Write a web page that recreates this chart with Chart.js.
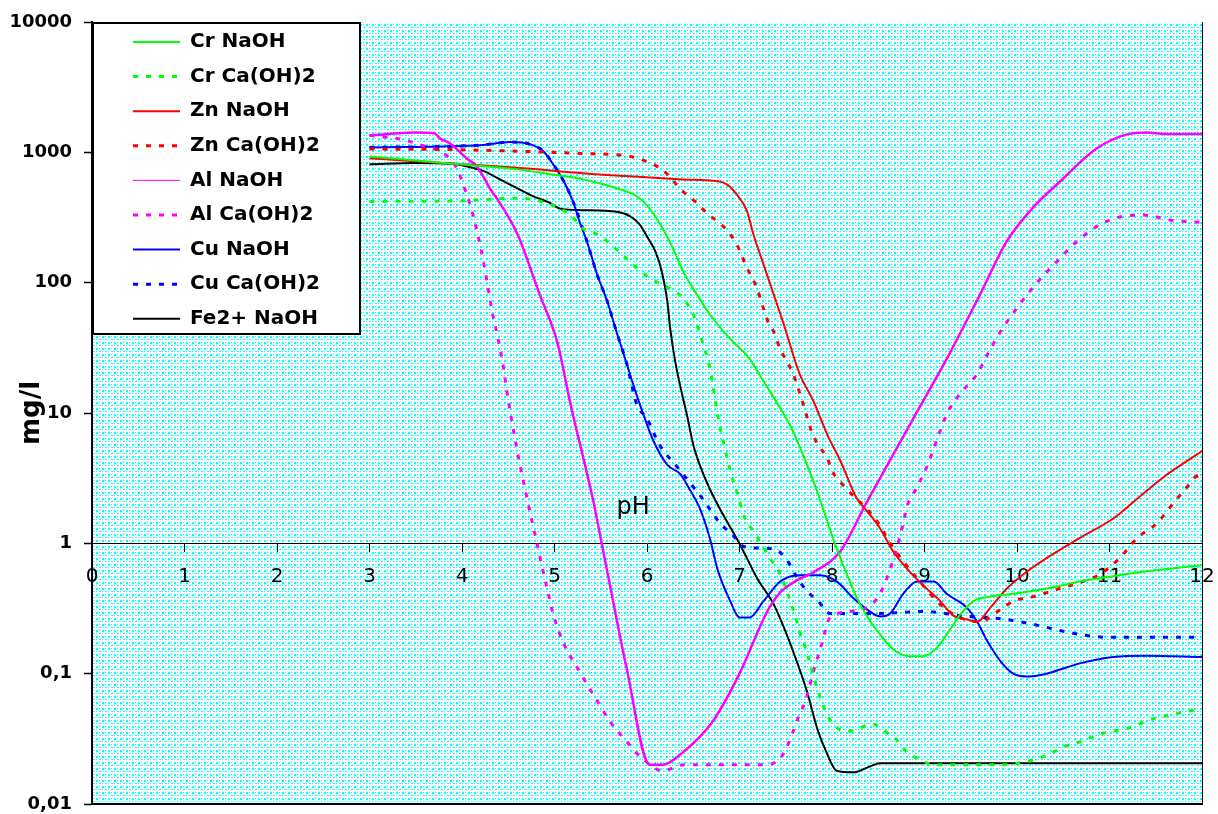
<!DOCTYPE html>
<html><head><meta charset="utf-8">
<script src="https://cdn.jsdelivr.net/npm/chart.js@4.4.1/dist/chart.umd.min.js"></script>
<style>html,body{margin:0;padding:0;background:#fff;}canvas{display:block;}</style>
</head><body>
<canvas id="c" width="1218" height="814"></canvas>
<script>
// ---- axis ticks / labels ----
const xTickValues = [0,1,2,3,4,5,6,7,8,9,10,11,12];
const xTickLabels = ['0','1','2','3','4','5','6','7','8','9','10','11','12'];
const yTickValues = [0.01,0.1,1,10,100,1000,10000];
const yTickLabels = ['0,01','0,1','1','10','100','1000','10000'];
const xTitle = 'pH';
const xTitleAt = [5.85, 1.67];
const yTitle = 'mg/l';

// ---- series ----
const phCrNaOH = [3,3.87,4.6,4.95,5.31,5.67,5.89,6.03,6.17,6.28,6.39,6.54,6.68,6.9,7.11,7.26,7.44,7.58,7.73,7.84,7.95,8.03,8.16,8.27,8.38,8.52,8.66,8.84,8.98,9.13,9.28,9.38,9.53,9.71,9.96,10.32,10.68,11.04,11.4,12];
const crNaOH   = [930,820,740,680,620,530,460,370,260,184,122,81,57,37,26,17.5,10.9,7.2,4.0,2.5,1.47,1.0,0.58,0.38,0.275,0.2,0.154,0.136,0.136,0.157,0.22,0.28,0.36,0.39,0.41,0.45,0.51,0.56,0.61,0.68];

const phCrCa = [3,4.0,4.6,4.95,5.17,5.31,5.46,5.57,5.67,5.89,6.03,6.25,6.39,6.5,6.6,6.68,6.71,6.77,6.84,6.92,6.97,7.06,7.15,7.24,7.33,7.44,7.55,7.6,7.65,7.71,7.84,7.9,8.0,8.16,8.45,8.55,8.7,8.81,8.95,9.1,9.8,10.2,10.39,10.54,10.68,10.93,11.19,11.47,11.76,12];
const crCa   = [420,425,445,400,330,260,235,208,180,130,108,90,76,57,35,22,16.6,9.1,5.4,3.2,2.5,1.55,1.24,0.98,0.77,0.58,0.36,0.28,0.21,0.16,0.077,0.058,0.042,0.036,0.041,0.037,0.031,0.025,0.022,0.02,0.02,0.022,0.025,0.028,0.03,0.035,0.038,0.045,0.05,0.054];

const phZnNaOH = [3,3.87,4.6,5.31,6.03,6.39,6.76,6.86,6.97,7.08,7.15,7.26,7.37,7.47,7.65,7.8,7.95,8.09,8.27,8.38,8.52,8.66,8.81,8.98,9.17,9.31,9.46,9.57,9.71,9.89,10.07,10.32,10.68,11.04,11.3,11.58,12];
const znNaOH   = [900,820,760,690,640,620,600,570,475,355,235,138,81,50,20,12.3,6.8,4.3,2.2,1.76,1.3,0.87,0.64,0.48,0.36,0.28,0.26,0.25,0.32,0.45,0.58,0.77,1.1,1.55,2.2,3.2,5.1];

const phZnCa = [3,3.87,4.6,5.31,5.67,5.82,5.96,6.17,6.39,6.52,6.65,6.76,6.86,6.97,7.08,7.19,7.26,7.31,7.37,7.44,7.51,7.58,7.69,7.78,7.85,7.95,8.0,8.12,8.49,8.63,8.98,9.17,9.38,9.6,9.82,9.96,10.18,10.46,10.68,10.9,11.11,11.3,11.51,11.62,11.73,11.82,11.92,12];
const znCa   = [1060,1050,1020,980,960,930,870,730,500,420,340,295,255,197,130,90,63,50,42,31,25,20,11.6,7.2,5.7,4.5,3.6,2.8,1.47,1.0,0.48,0.34,0.27,0.25,0.31,0.36,0.39,0.45,0.5,0.58,0.77,1.1,1.42,1.76,2.2,2.6,3.2,3.4];

const phAlNaOH = [3,3.5,3.7,3.76,3.87,3.98,4.05,4.16,4.23,4.3,4.38,4.6,4.84,5.03,5.17,5.42,5.51,5.57,5.78,6.03,6.17,6.36,6.71,7.0,7.3,7.44,7.62,7.8,8.09,8.38,8.88,9.24,9.6,9.89,10.14,10.5,10.86,11.2,11.4,11.6,12];
const alNaOH   = [1350,1420,1400,1280,1170,1000,900,780,650,530,440,235,81,35,12,2.1,1.0,0.61,0.11,0.02,0.02,0.024,0.043,0.1,0.3,0.42,0.52,0.6,0.87,2.1,9.1,26,81,208,355,630,1070,1380,1420,1380,1380];

const phAlCa = [3,3.37,3.53,3.82,3.95,4.0,4.1,4.21,4.27,4.32,4.39,4.45,4.48,4.6,4.71,4.81,4.92,4.99,5.1,5.27,5.42,5.6,5.8,5.93,6.17,6.4,7.3,7.47,7.58,7.65,7.71,7.8,7.89,7.98,8.2,8.49,8.63,8.74,8.82,8.88,9.02,9.13,9.24,9.38,9.57,9.68,9.82,10.0,10.2,10.43,10.65,10.9,11.15,11.36,11.69,12];
const alCa   = [1350,1250,1150,960,740,600,370,174,102,63,37,22,15.5,5,2.1,1.0,0.45,0.28,0.17,0.104,0.069,0.043,0.029,0.023,0.018,0.02,0.02,0.024,0.036,0.049,0.061,0.104,0.17,0.27,0.3,0.38,0.64,1.17,2.0,2.4,3.8,6.1,9.8,13.9,20,28,42,64,97,145,208,280,323,330,300,290];

const phCuNaOH = [3,4.23,4.52,4.74,4.88,4.98,5.1,5.2,5.27,5.35,5.46,5.57,5.67,5.78,5.84,5.96,6.07,6.22,6.36,6.46,6.57,6.68,6.76,6.9,7.0,7.11,7.26,7.44,7.65,7.87,8.05,8.23,8.38,8.52,8.63,8.77,8.92,9.1,9.24,9.46,9.57,9.68,9.82,9.96,10.1,10.32,10.68,11.04,11.4,12];
const cuNaOH   = [1090,1140,1200,1150,1020,820,600,420,295,208,116,72,42,24,17.5,9.8,6.1,4.0,3.4,2.6,1.86,1.09,0.64,0.36,0.27,0.27,0.36,0.51,0.57,0.57,0.51,0.38,0.31,0.275,0.29,0.41,0.51,0.51,0.41,0.32,0.25,0.177,0.125,0.10,0.095,0.10,0.12,0.134,0.137,0.134];

const phCuCa = [3,4.23,4.52,4.74,4.88,4.98,5.1,5.2,5.35,5.46,5.57,5.67,5.78,5.89,6.0,6.09,6.17,6.27,6.39,6.52,6.6,6.71,6.79,6.92,7.04,7.2,7.38,7.51,7.62,7.73,7.85,7.98,8.5,9.0,9.46,9.68,9.89,10.16,10.68,11.0,12];
const cuCa   = [1090,1140,1200,1150,1020,820,600,420,208,116,72,42,24,11.6,9.1,6.6,5.2,4.3,3.4,2.6,2.2,1.7,1.42,1.17,0.95,0.92,0.9,0.75,0.55,0.43,0.36,0.29,0.29,0.3,0.275,0.27,0.26,0.24,0.2,0.19,0.19];

const phFeNaOH = [3,3.5,3.87,4.05,4.23,4.41,4.6,4.77,4.95,5.06,5.31,5.67,5.82,5.92,6.01,6.09,6.16,6.22,6.25,6.3,6.36,6.43,6.5,6.57,6.68,6.82,6.97,7.08,7.19,7.37,7.51,7.58,7.73,7.84,7.95,8.05,8.23,8.38,8.52,12];
const feNaOH   = [810,830,820,780,720,620,530,460,410,370,360,350,323,280,220,174,122,72,45,26,16,9.8,5.7,4.0,2.6,1.67,1.09,0.77,0.54,0.34,0.2,0.148,0.073,0.038,0.024,0.018,0.0175,0.019,0.0205,0.0205];

const seriesNames = ['Cr NaOH','Cr Ca(OH)2','Zn NaOH','Zn Ca(OH)2','Al NaOH','Al Ca(OH)2','Cu NaOH','Cu Ca(OH)2','Fe2+ NaOH'];

// ---- styling ----
function makeSet(label, xs, ys, color, dashed, width, legendWidth) {
  return {
    label,
    data: xs.map((x, i) => ({x, y: ys[i]})),
    borderColor: color,
    backgroundColor: color,
    borderWidth: width,
    borderDash: dashed ? [5, 8] : [],
    legendWidth: legendWidth,
    pointRadius: 0,
    fill: false,
    cubicInterpolationMode: 'monotone'
  };
}
const datasets = [
  makeSet(seriesNames[0], phCrNaOH, crNaOH, '#00ff00', false, 2, 2),
  makeSet(seriesNames[1], phCrCa, crCa, '#00ff00', true, 3, 3),
  makeSet(seriesNames[2], phZnNaOH, znNaOH, '#ff0000', false, 2, 2),
  makeSet(seriesNames[3], phZnCa, znCa, '#ff0000', true, 3, 3),
  makeSet(seriesNames[4], phAlNaOH, alNaOH, '#ff00ff', false, 2.5, 1),
  makeSet(seriesNames[5], phAlCa, alCa, '#ff00ff', true, 3, 3),
  makeSet(seriesNames[6], phCuNaOH, cuNaOH, '#0000ff', false, 2, 2),
  makeSet(seriesNames[7], phCuCa, cuCa, '#0000ff', true, 3, 3),
  makeSet(seriesNames[8], phFeNaOH, feNaOH, '#000000', false, 2, 2)
];

// dotted cyan background tile
const tile = document.createElement('canvas');
tile.width = 6; tile.height = 6;
(function(){
  const t = tile.getContext('2d');
  t.fillStyle = '#ffffff'; t.fillRect(0,0,6,6);
  t.fillStyle = '#00ffff';
  t.fillRect(0,0,2,2); t.fillRect(3,0,1,1); t.fillRect(0,3,1,1); t.fillRect(3,3,2,1);
})();

const decor = {
  id: 'decor',
  afterLayout(chart) {
    const a = chart.chartArea, lg = chart.legend;
    if (!lg) return;
    lg.left = a.left + 26.4; lg.top = a.top - 4.6;
    lg.right = lg.left + lg.width; lg.bottom = lg.top + lg.height;
  },
  beforeDraw(chart) {
    const {ctx, chartArea: a} = chart;
    ctx.save();
    ctx.fillStyle = ctx.createPattern(tile, 'repeat');
    ctx.fillRect(a.left, a.top, a.right - a.left, a.bottom - a.top);
    ctx.fillStyle = '#ffffff';
    ctx.fillRect(a.left, a.top, 268, 312);
    ctx.strokeStyle = '#000'; ctx.lineWidth = 2;
    ctx.strokeRect(a.left + 1, a.top + 1, 267, 311);
    ctx.restore();
  },
  afterDraw(chart) {
    const {ctx, chartArea: a, scales} = chart;
    ctx.save();
    ctx.strokeStyle = '#000';
    ctx.lineWidth = 2;
    ctx.beginPath(); ctx.moveTo(a.left, a.bottom); ctx.lineTo(a.right + 1, a.bottom); ctx.stroke();
    ctx.lineWidth = 1;
    ctx.beginPath(); ctx.moveTo(a.right + 0.5, a.top); ctx.lineTo(a.right + 0.5, a.bottom); ctx.stroke();
    ctx.fillStyle = '#000';
    ctx.font = "24px 'DejaVu Sans'";
    ctx.textAlign = 'center'; ctx.textBaseline = 'alphabetic';
    ctx.fillText(xTitle, scales.x.getPixelForValue(xTitleAt[0]), scales.y.getPixelForValue(xTitleAt[1]));
    ctx.restore();
  }
};

Chart.defaults.font.family = "'DejaVu Sans', sans-serif";
Chart.defaults.color = '#000';

new Chart(document.getElementById('c'), {
  type: 'line',
  data: { datasets },
  options: {
    responsive: false,
    animation: false,
    devicePixelRatio: 1,
    events: [],
    layout: { padding: { left: 0, top: 22, right: 16, bottom: 10 } },
    scales: {
      x: {
        type: 'linear', min: 0, max: 12,
        position: { y: 1 },
        afterBuildTicks: s => { s.ticks = xTickValues.map(v => ({ value: v })); },
        afterFit: s => { s.paddingLeft = 0; s.paddingRight = 0; s.paddingTop = 0; s.paddingBottom = 0; },
        ticks: { callback: (v, i) => xTickLabels[i], font: { size: 20 }, color: '#000', padding: 13, autoSkip: false, maxRotation: 0 },
        grid: { drawOnChartArea: false, color: '#000', tickLength: 8, tickWidth: 1 },
        border: { color: '#000', width: 1 }
      },
      y: {
        type: 'logarithmic', min: 0.01, max: 10000,
        position: 'left',
        afterBuildTicks: s => { s.ticks = yTickValues.map(v => ({ value: v, major: true })); },
        afterFit: s => { s.width = 92; s.paddingTop = 0; s.paddingBottom = 0; },
        ticks: { callback: (v, i) => yTickLabels[i], font: { size: 18, weight: 'bold', lineHeight: 1 }, color: '#000', padding: 12, autoSkip: false },
        grid: { drawOnChartArea: false, color: '#000', tickLength: 8, tickWidth: 1.5 },
        border: { color: '#000', width: 2 },
        title: { display: true, text: yTitle, color: '#000', font: { size: 26, weight: 'bold' }, padding: { top: 17, bottom: 0 } }
      }
    },
    plugins: {
      legend: {
        position: 'chartArea', align: 'start',
        labels: {
          usePointStyle: true, pointStyle: 'line', pointStyleWidth: 47, padding: 14.6,
          font: { size: 20, weight: 'bold' }, color: '#000',
          generateLabels: (chart) => {
            const items = Chart.defaults.plugins.legend.labels.generateLabels(chart);
            items.forEach(it => {
              const ds = chart.data.datasets[it.datasetIndex];
              it.lineDash = ds.borderDash;
              it.lineWidth = ds.legendWidth;
              it.strokeStyle = ds.borderColor;
              it.pointStyle = 'line';
            });
            return items;
          }
        }
      },
      tooltip: { enabled: false }
    }
  },
  plugins: [decor]
});
</script>
</body></html>
